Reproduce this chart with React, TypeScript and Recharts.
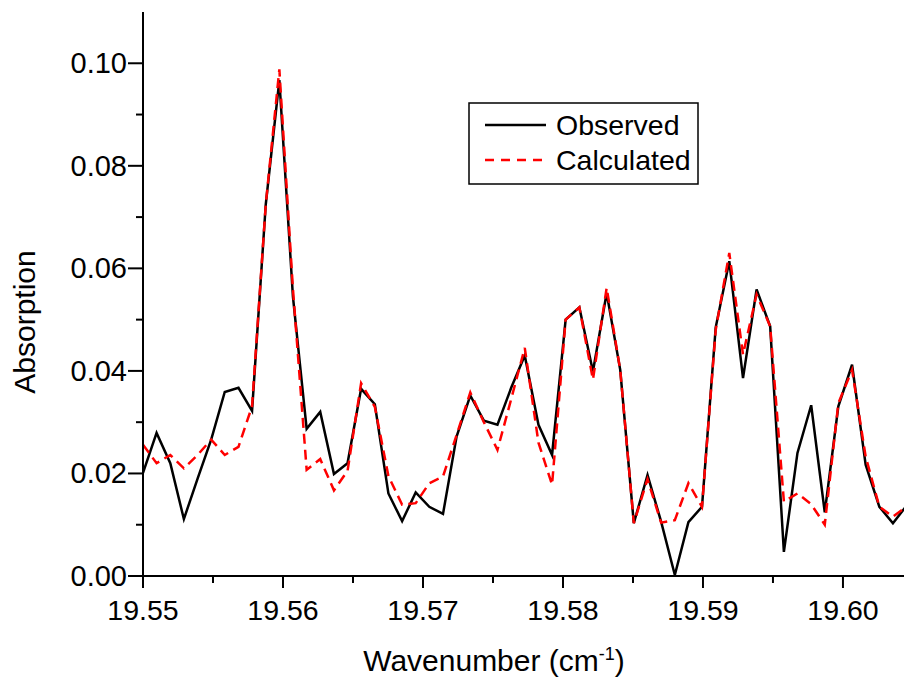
import { LineChart, Line, XAxis, YAxis, Legend } from 'recharts'

const FONT = '"Liberation Sans", Arial, Helvetica, sans-serif'

// wavenumber of each sample (cm-1)
const wavenumber = [
  19.55, 19.55097, 19.55195, 19.55292, 19.5539, 19.55487, 19.55584, 19.55682, 19.55779, 19.55877,
  19.55974, 19.56071, 19.56169, 19.56266, 19.56364, 19.56461, 19.56558, 19.56656, 19.56753, 19.56851,
  19.56948, 19.57045, 19.57143, 19.5724, 19.57338, 19.57435, 19.57532, 19.5763, 19.57727, 19.57825,
  19.57922, 19.58019, 19.58117, 19.58214, 19.58312, 19.58409, 19.58506, 19.58604, 19.58701, 19.58799,
  19.58896, 19.58993, 19.59091, 19.59188, 19.59286, 19.59383, 19.5948, 19.59578, 19.59675, 19.59773,
  19.5987, 19.59967, 19.60065, 19.60162, 19.6026, 19.60357, 19.60454,
]

const observed = [
  0.0201, 0.0279, 0.022, 0.0111, 0.019, 0.0266, 0.0359, 0.0367, 0.0322, 0.0725,
  0.0967, 0.0545, 0.0287, 0.032, 0.0199, 0.022, 0.0365, 0.0335, 0.0161, 0.0107,
  0.0163, 0.0135, 0.0121, 0.0272, 0.0352, 0.0303, 0.0295, 0.0367, 0.043, 0.0295,
  0.0236, 0.05, 0.0524, 0.0399, 0.0552, 0.0402, 0.0103, 0.0197, 0.0106, 0.0002,
  0.0105, 0.0135, 0.0485, 0.0614, 0.0386, 0.0559, 0.0487, 0.0047, 0.024, 0.0333,
  0.0124, 0.0331, 0.0412, 0.0217, 0.0135, 0.0103, 0.0137,
]

const calculated = [
  0.0256, 0.022, 0.0236, 0.021, 0.0236, 0.0266, 0.0236, 0.0252, 0.0331, 0.0725,
  0.0988, 0.056, 0.0207, 0.0228, 0.0167, 0.0205, 0.0376, 0.033, 0.0195, 0.0139,
  0.0142, 0.0181, 0.0194, 0.0275, 0.0358, 0.03, 0.0246, 0.0345, 0.0445, 0.026,
  0.0178, 0.05, 0.0524, 0.0383, 0.0562, 0.0402, 0.0103, 0.0189, 0.0104, 0.0109,
  0.0181, 0.0135, 0.048, 0.063, 0.0432, 0.0549, 0.0487, 0.0145, 0.0161, 0.014,
  0.01, 0.0337, 0.0402, 0.0233, 0.0135, 0.0116, 0.0135,
]

const xMajor = [19.55, 19.56, 19.57, 19.58, 19.59, 19.6]
const xMinor = [19.555, 19.565, 19.575, 19.585, 19.595]
const yMajor = [0, 0.02, 0.04, 0.06, 0.08, 0.1]
const yMinor = [0.01, 0.03, 0.05, 0.07, 0.09]

const data = wavenumber.map((x, i) => ({ x, observed: observed[i], calculated: calculated[i] }))

const isMajor = (list: number[], v: number) => list.some(m => Math.abs(m - v) < 1e-9)

function XTick({ x, y, payload }: any) {
  const major = isMajor(xMajor, payload.value)
  return (
    <g>
      <line x1={x} x2={x} y1={y} y2={y + (major ? 12 : 7)} stroke="#000" strokeWidth={2} />
      {major && (
        <text x={x} y={y + 44} textAnchor="middle" fontSize={28.5} fontFamily={FONT} fill="#000">
          {payload.value.toFixed(2)}
        </text>
      )}
    </g>
  )
}

function YTick({ x, y, payload }: any) {
  const major = isMajor(yMajor, payload.value)
  return (
    <g>
      <line x1={x - (major ? 15 : 7)} x2={x} y1={y} y2={y} stroke="#000" strokeWidth={2} />
      {major && (
        <text x={x - 16} y={y + 10} textAnchor="end" fontSize={29} fontFamily={FONT} fill="#000">
          {payload.value.toFixed(2)}
        </text>
      )}
    </g>
  )
}

function LegendBox() {
  return (
    <svg width={232} height={84} style={{ display: 'block' }}>
      <rect x={1} y={1} width={229} height={81} fill="#fff" stroke="#000" strokeWidth={1.5} />
      <line x1={17} x2={78} y1={23} y2={23} stroke="#000" strokeWidth={2.5} />
      <text x={88} y={33} fontSize={28.5} fontFamily={FONT} fill="#000">Observed</text>
      <line x1={17} x2={78} y1={58} y2={58} stroke="#ff0000" strokeWidth={2.5} strokeDasharray="9 7" />
      <text x={88} y={68} fontSize={28.5} fontFamily={FONT} fill="#000">Calculated</text>
    </svg>
  )
}

export default function App() {
  return (
    <div style={{ position: 'absolute', left: 0, top: 0, width: 904, height: 679, background: '#fff' }}>
      <LineChart width={904} height={679} data={data} margin={{ top: 12, right: 0, bottom: 0, left: 0 }}>
        <XAxis
          dataKey="x"
          type="number"
          domain={[19.55, 19.60436]}
          allowDataOverflow
          ticks={[...xMajor, ...xMinor].sort((a, b) => a - b)}
          interval={0}
          height={103}
          tickSize={0}
          tickMargin={0}
          tickLine={false}
          tick={<XTick />}
          axisLine={{ stroke: '#000', strokeWidth: 2 }}
          label={{
            content: ({ viewBox }: any) => (
              <text x={viewBox.x + 351} y={viewBox.y + 95} textAnchor="middle" fontSize={30} fontFamily={FONT} fill="#000">
                <tspan>Wavenumber (cm</tspan>
                <tspan dy={-11} fontSize={18}>-1</tspan>
                <tspan dy={11}>)</tspan>
              </text>
            ),
          }}
        />
        <YAxis
          type="number"
          domain={[0, 0.11]}
          allowDataOverflow
          ticks={[...yMajor, ...yMinor].sort((a, b) => a - b)}
          interval={0}
          width={143}
          tickSize={0}
          tickMargin={0}
          tickLine={false}
          tick={<YTick />}
          axisLine={{ stroke: '#000', strokeWidth: 2 }}
          label={{
            content: ({ viewBox }: any) => {
              const cx = viewBox.x + 35
              const cy = viewBox.y + viewBox.height / 2 + 28
              return (
                <text x={cx} y={cy} transform={`rotate(-90 ${cx} ${cy})`} textAnchor="middle" fontSize={30} fontFamily={FONT} fill="#000">
                  Absorption
                </text>
              )
            },
          }}
        />
        <Legend
          layout="vertical"
          align="center"
          verticalAlign="middle"
          content={() => <LegendBox />}
          wrapperStyle={{ position: 'absolute', left: 468, top: 102, width: 232, height: 84 }}
        />
        <Line
          type="linear"
          dataKey="observed"
          name="Observed"
          stroke="#000"
          strokeWidth={2.5}
          dot={false}
          isAnimationActive={false}
        />
        <Line
          type="linear"
          dataKey="calculated"
          name="Calculated"
          stroke="#ff0000"
          strokeWidth={2.5}
          strokeDasharray="10 6"
          dot={false}
          isAnimationActive={false}
        />
      </LineChart>
    </div>
  )
}
